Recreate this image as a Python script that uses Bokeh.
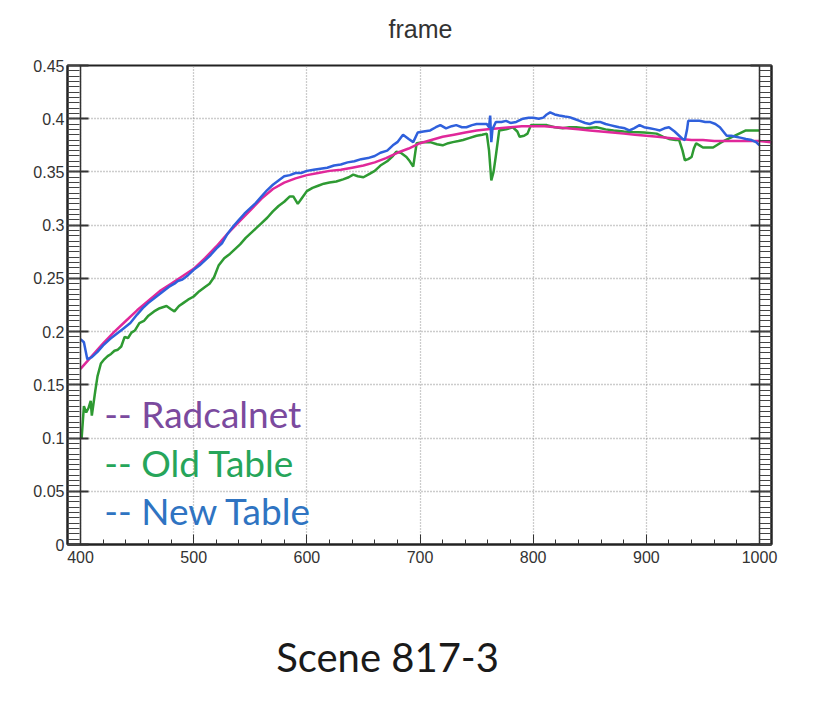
import numpy as np
from bokeh.plotting import figure
from bokeh.layouts import column
from bokeh.models import Range1d, LinearAxis, FixedTicker, Label, Span
from bokeh.embed import file_html
from bokeh.resources import INLINE

# ---------------- data ----------------
radcal_wl = [400, 410, 420, 430, 440, 450, 460, 470, 480, 490, 500, 510, 520, 530, 540,
             550, 560, 570, 580, 590, 600, 610, 620, 630, 640, 650, 660, 670, 680, 690,
             700, 710, 720, 730, 740, 750, 760, 770, 780, 790, 800, 810, 820, 830, 840,
             850, 860, 870, 880, 890, 900, 910, 920, 930, 940, 950, 960, 970, 980, 990,
             1000, 1010]
radcal_refl = [0.165, 0.177, 0.189, 0.200, 0.210, 0.220, 0.229, 0.238, 0.245, 0.252,
               0.259, 0.269, 0.280, 0.292, 0.303, 0.314, 0.325, 0.334, 0.340, 0.344,
               0.347, 0.349, 0.351, 0.352, 0.354, 0.356, 0.359, 0.363, 0.368, 0.372,
               0.377, 0.380, 0.383, 0.385, 0.387, 0.389, 0.390, 0.391, 0.392, 0.393,
               0.393, 0.393, 0.392, 0.391, 0.390, 0.389, 0.388, 0.387, 0.386, 0.385,
               0.384, 0.383, 0.382, 0.381, 0.380, 0.380, 0.379, 0.379, 0.379, 0.379,
               0.379, 0.378]

old_wl = [401, 403, 405, 407, 409, 410, 413, 415, 418, 421, 424, 427, 430, 433, 436,
          439, 442, 445, 448, 452, 456, 460, 465, 470, 476, 480, 483, 487, 491, 495,
          500, 505, 510, 514, 518, 522, 527, 532, 537, 541, 546, 551, 555, 560, 565,
          570, 575, 580, 585, 588, 592, 596, 600, 605, 610, 615, 620, 626, 632, 637,
          641, 645, 650, 655, 660, 665, 671, 676, 679, 683, 688, 691, 694, 697, 703,
          709, 715, 720, 725, 729, 734, 738, 744, 750, 755, 759, 761, 763, 765, 767,
          770, 776, 782, 786, 788, 792, 795, 798, 805, 812, 819, 826, 832, 838, 846,
          856, 864, 871, 880, 888, 898, 909, 915, 920, 926, 929, 932, 934, 937, 940,
          942, 944, 947, 950, 955, 959, 965, 970, 976, 982, 988, 994, 1000]
old_refl = [0.100, 0.130, 0.124, 0.128, 0.135, 0.121, 0.144, 0.158, 0.170, 0.174,
            0.177, 0.179, 0.182, 0.183, 0.186, 0.195, 0.194, 0.199, 0.201, 0.208,
            0.210, 0.215, 0.219, 0.222, 0.224, 0.221, 0.219, 0.224, 0.227, 0.230,
            0.233, 0.238, 0.242, 0.245, 0.251, 0.262, 0.269, 0.273, 0.278, 0.282,
            0.288, 0.293, 0.297, 0.302, 0.307, 0.313, 0.318, 0.322, 0.327, 0.327,
            0.320, 0.326, 0.332, 0.335, 0.337, 0.339, 0.340, 0.341, 0.343, 0.345,
            0.3475, 0.346, 0.345, 0.348, 0.351, 0.356, 0.360, 0.365, 0.369, 0.368,
            0.364, 0.360, 0.355, 0.377, 0.378, 0.378, 0.376, 0.375, 0.377, 0.378,
            0.379, 0.380, 0.382, 0.384, 0.385, 0.386, 0.370, 0.342, 0.350, 0.365,
            0.389, 0.390, 0.392, 0.388, 0.383, 0.384, 0.386, 0.394, 0.394, 0.394,
            0.392, 0.391, 0.392, 0.392, 0.391, 0.392, 0.390, 0.389, 0.388, 0.3875,
            0.387, 0.386, 0.383, 0.381, 0.380, 0.380, 0.370, 0.361, 0.362, 0.364,
            0.372, 0.377, 0.375, 0.373, 0.373, 0.373, 0.377, 0.380, 0.383, 0.386,
            0.389, 0.389, 0.389]

new_wl = [400, 403, 406, 410, 415, 420, 426, 432, 438, 444, 450, 455, 460, 466, 472,
          478, 483, 486, 490, 495, 500, 505, 510, 515, 520, 525, 530, 535, 540, 545,
          550, 555, 560, 565, 570, 575, 580, 585, 590, 595, 600, 606, 612, 618, 624,
          630, 636, 642, 648, 654, 660, 665, 671, 676, 680, 685, 690, 694, 698, 703,
          709, 714, 718, 723, 728, 732, 737, 741, 746, 750, 755, 759, 761, 762, 763,
          764, 767, 772, 776, 780, 785, 791, 796, 800, 805, 809, 812, 815, 819, 823,
          828, 832, 836, 841, 846, 850, 855, 859, 864, 868, 872, 876, 881, 885, 889,
          894, 898, 903, 908, 912, 916, 920, 925, 929, 932, 934, 936, 937, 942, 947,
          952, 956, 961, 965, 968, 971, 975, 979, 984, 988, 993, 997, 1000]
new_refl = [0.193, 0.190, 0.174, 0.176, 0.181, 0.187, 0.193, 0.198, 0.203, 0.208,
            0.216, 0.222, 0.227, 0.232, 0.237, 0.242, 0.245, 0.2475, 0.249, 0.253,
            0.258, 0.262, 0.267, 0.272, 0.278, 0.283, 0.292, 0.299, 0.305, 0.311,
            0.316, 0.321, 0.327, 0.333, 0.338, 0.342, 0.346, 0.347, 0.349, 0.349,
            0.351, 0.352, 0.353, 0.354, 0.356, 0.357, 0.359, 0.360, 0.362, 0.363,
            0.365, 0.368, 0.370, 0.375, 0.378, 0.385, 0.381, 0.378, 0.387, 0.388,
            0.389, 0.392, 0.394, 0.391, 0.393, 0.394, 0.392, 0.392, 0.394, 0.395,
            0.395, 0.395, 0.392, 0.403, 0.378, 0.390, 0.397, 0.397, 0.398, 0.396,
            0.397, 0.400, 0.401, 0.401, 0.400, 0.401, 0.404, 0.406, 0.404, 0.403,
            0.402, 0.4015, 0.400, 0.398, 0.396, 0.395, 0.397, 0.397, 0.395, 0.394,
            0.393, 0.392, 0.391, 0.389, 0.391, 0.394, 0.392, 0.391, 0.390, 0.389,
            0.391, 0.392, 0.388, 0.384, 0.381, 0.380, 0.390, 0.398, 0.398, 0.398,
            0.397, 0.397, 0.395, 0.392, 0.388, 0.384, 0.384, 0.383, 0.382, 0.381,
            0.380, 0.378, 0.375]

x_ticks = [400, 500, 600, 700, 800, 900, 1000]
y_ticks = [0, 0.05, 0.1, 0.15, 0.2, 0.25, 0.3, 0.35, 0.4, 0.45]
y_tick_labels = ["0", "0.05", "0.1", "0.15", "0.2", "0.25", "0.3", "0.35", "0.4", "0.45"]

title_text = "frame"
scene_text = "Scene 817-3"
legend_texts = ["-- Radcalnet", "-- Old Table", "-- New Table"]

W = 805
axis_font = "Liberation Sans"
xr = Range1d(388.5, 1010.6)


def blank(h):
    f = figure(width=W, height=h, output_backend="svg", toolbar_location=None,
               x_range=xr, y_range=Range1d(0, h),
               x_axis_location=None, y_axis_location=None,
               min_border_left=67, min_border_right=34,
               min_border_top=0, min_border_bottom=0)
    f.outline_line_color = None
    f.grid.visible = False
    f.background_fill_color = "white"
    f.border_fill_color = "white"
    return f


# ---------------- header (title) ----------------
top = blank(50)
top.add_layout(Label(x=700.4, y=22, text=title_text, text_align="center",
                     text_baseline="middle", text_font=axis_font,
                     text_font_size="25px", text_color="#333333"))

# ---------------- main plot ----------------
p = figure(width=W, height=530, output_backend="svg", toolbar_location=None,
           x_range=xr, y_range=Range1d(0, 0.45),
           min_border_left=67, min_border_right=34, min_border_top=15,
           min_border_bottom=36)
p.background_fill_color = "white"
p.border_fill_color = "white"
p.outline_line_color = "#222222"
p.outline_line_width = 2

x_minor = list(np.arange(400, 1001, 20))
y_minor = list(np.round(np.arange(0, 0.4501, 0.005), 4))

xa = p.xaxis[0]
xa.ticker = FixedTicker(ticks=x_ticks, minor_ticks=x_minor)
xa.axis_line_color = "#222222"
xa.axis_line_width = 2
xa.major_tick_in = 10
xa.major_tick_out = 0
xa.minor_tick_in = 5
xa.minor_tick_out = 0
xa.major_tick_line_color = "#333333"
xa.minor_tick_line_color = "#333333"
xa.major_label_text_font = axis_font
xa.major_label_text_font_size = "16px"
xa.major_label_text_color = "#333333"
xa.major_label_standoff = 6

ya = p.yaxis[0]
ya.ticker = FixedTicker(ticks=y_ticks, minor_ticks=y_minor)
ya.major_label_overrides = {t: s for t, s in zip(y_ticks, y_tick_labels)}
ya.axis_line_color = "#222222"
ya.axis_line_width = 2
ya.major_tick_in = 21
ya.major_tick_out = 0
ya.minor_tick_in = 12
ya.minor_tick_out = 0
ya.major_tick_line_color = "#333333"
ya.major_tick_line_width = 2
ya.minor_tick_line_color = "#444444"
ya.major_label_text_font = axis_font
ya.major_label_text_font_size = "16px"
ya.major_label_text_color = "#333333"
ya.major_label_standoff = 3

ra = LinearAxis(ticker=FixedTicker(ticks=y_ticks, minor_ticks=y_minor))
ra.major_label_text_font_size = "0px"
ra.major_label_text_alpha = 0
ra.axis_line_color = "#222222"
ra.axis_line_width = 2
ra.major_tick_in = 21
ra.major_tick_out = 0
ra.minor_tick_in = 12
ra.minor_tick_out = 0
ra.major_tick_line_color = "#333333"
ra.major_tick_line_width = 2
ra.minor_tick_line_color = "#444444"
p.add_layout(ra, "right")

# dotted grid
p.xgrid.ticker = FixedTicker(ticks=x_ticks)
p.ygrid.ticker = FixedTicker(ticks=y_ticks)
for g in (p.xgrid[0], p.ygrid[0]):
    g.grid_line_color = "#9a9a9a"
    g.grid_line_dash = "1 2"
    g.grid_line_width = 1.3

# vertical rails at the ends of the wavelength range
for xv in (x_ticks[0], x_ticks[-1]):
    p.add_layout(Span(location=xv, dimension="height", line_color="#333333", line_width=1.5))

# curves
p.line(old_wl, old_refl, line_color="#2e9a32", line_width=2.5)
p.line(radcal_wl, radcal_refl, line_color="#e0289a", line_width=2.5)
p.line(new_wl, new_refl, line_color="#2f60dc", line_width=2.5)

# legend texts
leg_colors = ["#7b4a9e", "#26a55a", "#2f74c2"]
leg_y = [0.1228, 0.0769, 0.0319]
for t, c, yv in zip(legend_texts, leg_colors, leg_y):
    p.add_layout(Label(x=421.0, y=yv, text=t, text_align="left", text_baseline="middle",
                       text_font="Lato", text_font_size="37px", text_color=c))

# ---------------- footer (caption) ----------------
bottom = blank(112)
bottom.add_layout(Label(x=671.3, y=36, text=scene_text, text_align="center",
                        text_baseline="middle", text_font="Lato",
                        text_font_size="40px", text_color="#1a1a1a"))

layout = column(top, p, bottom, spacing=0)
open("out.html", "w").write(file_html(layout, INLINE))
